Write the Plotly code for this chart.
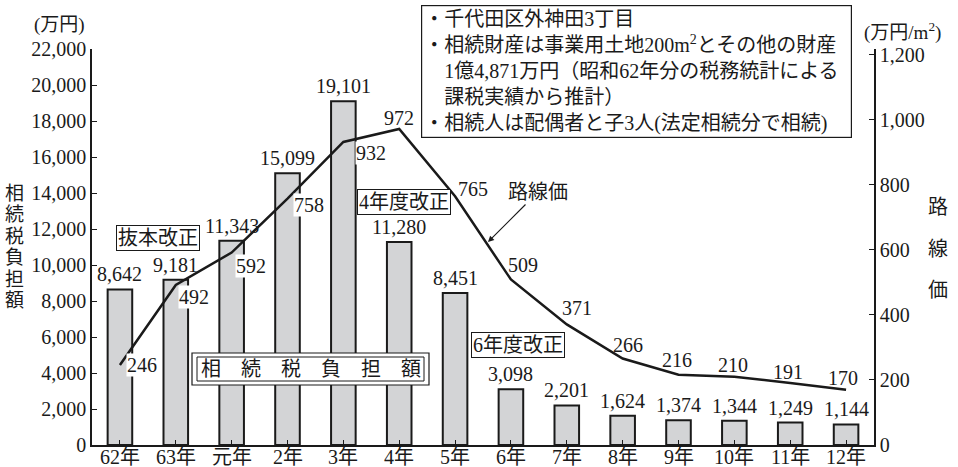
import plotly.graph_objects as go

# ---- data ----
categories = ["62年", "63年", "元年", "2年", "3年", "4年", "5年", "6年", "7年", "8年", "9年", "10年", "11年", "12年"]
tax_burden = [8642, 9181, 11343, 15099, 19101, 11280, 8451, 3098, 2201, 1624, 1374, 1344, 1249, 1144]
route_price = [246, 492, 592, 758, 932, 972, 765, 509, 371, 266, 216, 210, 191, 170]
left_ticks = list(range(0, 22001, 2000))
right_ticks = list(range(0, 1201, 200))

note_lines = [
    "・千代田区外神田3丁目",
    "・相続財産は事業用土地200m<sup>2</sup>とその他の財産",
    "　1億4,871万円（昭和62年分の税務統計による",
    "　課税実績から推計）",
    "・相続人は配偶者と子3人(法定相続分で相続)",
]

# ---- layout helpers ----
W, H = 958, 467
L, R, T, B = 92, 874, 49, 445
FONT = "Liberation Serif, Noto Sans CJK JP, serif"
BLACK = "#1a1a1a"


def px(x):
    return (x - L) / (R - L)


def py(y):
    return (B - y) / (B - T)


fig = go.Figure()
fig.add_trace(go.Bar(
    x=list(range(len(categories))), y=tax_burden, width=0.44,
    marker=dict(color="#d3d4d6", line=dict(color=BLACK, width=2)),
    name="相続税負担額", yaxis="y",
))
fig.add_trace(go.Scatter(
    x=list(range(len(categories))), y=route_price, mode="lines",
    line=dict(color=BLACK, width=2.5), name="路線価", yaxis="y2",
))

ann = []
# bar value labels
for i, v in enumerate(tax_burden):
    ann.append(dict(x=i, y=v, xref="x", yref="y", text=f"{v:,}", showarrow=False,
                    xanchor="center", yanchor="bottom", yshift=2,
                    font=dict(size=20, color=BLACK, family=FONT)))

# category labels under the axis
for i, c in enumerate(categories):
    ann.append(dict(x=i, y=py(457), xref="x", yref="paper", text=c, showarrow=False,
                    xanchor="center", yanchor="middle",
                    font=dict(size=20, color=BLACK, family=FONT)))

# line value labels (offsets in pixels)
line_offsets = [(22, 0), (18, -12), (19, -13), (21, -6), (28, -11), (0, 11), (18, 7),
                (12, 15), (10, 16), (5, 14), (-2, 15), (-1, 12), (-2, 11), (-3, 12)]
white_bg = [True, True, True, True, True, False, False, False, False, False, False, False, False, False]
for i, v in enumerate(route_price):
    dx, dy = line_offsets[i]
    ann.append(dict(x=i, y=v, xref="x", yref="y2", text=f"{v:,}", showarrow=False,
                    xanchor="center", yanchor="middle",
                    xshift=dx, yshift=dy, bgcolor="white" if white_bg[i] else "rgba(0,0,0,0)",
                    borderpad=0, font=dict(size=20, color=BLACK, family=FONT)))


def label(text, cx, cy, size=20, **kw):
    d = dict(x=px(cx), y=py(cy), xref="paper", yref="paper", text=text, showarrow=False,
             xanchor="center", yanchor="middle", font=dict(size=size, color=BLACK, family=FONT))
    d.update(kw)
    ann.append(d)


# units
label("(万円)", 59, 25, size=19)
label("(万円/m<sup>2</sup>)", 902, 31, size=19)

# axis titles (stacked vertical characters)
for k, ch in enumerate("相続税負担額"):
    label(ch, 14, 193 + k * 21.5, size=19)
for k, ch in enumerate("路線価"):
    label(ch, 938, 207 + k * 41.5, size=20)

# reform boxes
for text, cx, cy in [("抜本改正", 158, 238), ("4年度改正", 404, 202), ("6年度改正", 518, 345)]:
    label(text, cx, cy, bordercolor=BLACK, borderwidth=1, borderpad=1, bgcolor="white")

# 路線価 pointer
ann.append(dict(x=px(488), y=py(242), xref="paper", yref="paper", text="路線価",
                showarrow=True, arrowhead=2, arrowsize=1, arrowwidth=1.2, arrowcolor=BLACK,
                xanchor="center", yanchor="middle",
                ax=50, ay=-50, font=dict(size=20, color=BLACK, family=FONT)))

# double boxed legend label
label("相　続　税　負　担　額", 310.5, 369)

# note box
ann.append(dict(x=px(421), y=py(5), xref="paper", yref="paper", xanchor="left", yanchor="top",
                text="<br>".join(note_lines), align="left", showarrow=False,
                width=425, height=127, bordercolor=BLACK, borderwidth=1.2, borderpad=2,
                bgcolor="white", font=dict(size=20, color=BLACK, family=FONT)))

shapes = [
    dict(type="rect", xref="paper", yref="paper", x0=px(192), x1=px(429), y0=py(385), y1=py(353),
         line=dict(color=BLACK, width=1.2), fillcolor="white", layer="above"),
    dict(type="rect", xref="paper", yref="paper", x0=px(197), x1=px(424), y0=py(381), y1=py(357),
         line=dict(color=BLACK, width=1), fillcolor="rgba(0,0,0,0)", layer="above"),
]

axis_font = dict(size=20, color=BLACK, family=FONT)
fig.update_layout(
    width=W, height=H,
    margin=dict(l=L, r=W - R, t=T, b=H - B, pad=0),
    paper_bgcolor="white", plot_bgcolor="white",
    showlegend=False, bargap=0.5,
    font=dict(family=FONT, color=BLACK),
    xaxis=dict(tickmode="array", tickvals=list(range(len(categories))), ticktext=categories,
               showticklabels=False,
               range=[-0.5, len(categories) - 0.5], showline=True, linecolor=BLACK, linewidth=1.5,
               ticks="inside", tickson="boundaries", ticklen=5, tickcolor=BLACK,
               showgrid=False, zeroline=False, automargin=False),
    yaxis=dict(range=[0, 22000], tickvals=left_ticks, ticktext=[f"{t:,}" for t in left_ticks],
               showline=True, linecolor=BLACK, linewidth=1.5, ticks="inside", ticklen=5,
               tickcolor=BLACK, tickfont=axis_font, showgrid=False, zeroline=False,
               automargin=False),
    yaxis2=dict(range=[0, 1218], tickvals=right_ticks, ticktext=[f"{t:,}" for t in right_ticks],
                overlaying="y", side="right", showline=True, linecolor=BLACK, linewidth=1.5,
                ticks="inside", ticklen=5, tickcolor=BLACK, tickfont=axis_font,
                showgrid=False, zeroline=False, automargin=False),
    annotations=ann, shapes=shapes,
)

fig.write_html("out.html")
